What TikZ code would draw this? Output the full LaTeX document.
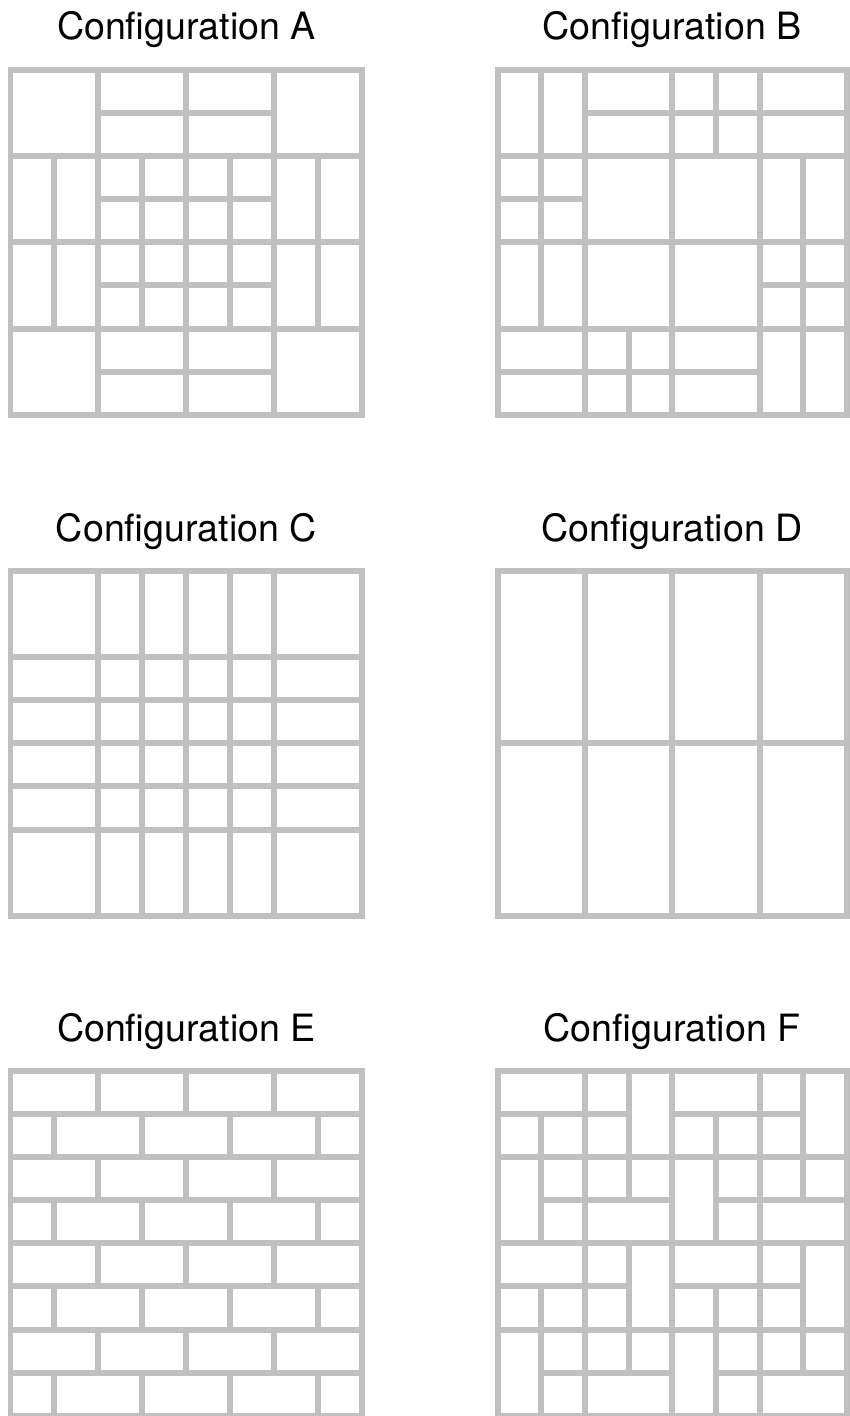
\documentclass[tikz,border=0pt]{standalone}
\usepackage{fontspec}
\setmainfont{TeX Gyre Heros}
\begin{document}
\begin{tikzpicture}[x=0.02cm,y=-0.02cm,font=\fontsize{21.4}{26}\selectfont]
  \definecolor{tilegray}{RGB}{192,192,192}
  \tikzset{joint/.style={tilegray,line width=0.12cm,line cap=rect}}
  \useasboundingbox (0,0) rectangle (849,1416);
  % titles
  \node[anchor=base] (labA) at (186.5,40) {Configuration A};
  \node[anchor=base] (labB) at (672,40) {Configuration B};
  \node[anchor=base] (labC) at (186.5,541) {Configuration C};
  \node[anchor=base] (labD) at (672,541) {Configuration D};
  \node[anchor=base] (labE) at (186.5,1041) {Configuration E};
  \node[anchor=base] (labF) at (672,1041) {Configuration F};
  % Configuration A
  \begin{scope}[shift={(10.5,70)},x=0.88cm,y=-0.862cm]
    \draw[joint] (0,0) rectangle (8,8);
    \foreach \y in {2,4,6} \draw[joint] (0,\y) -- (8,\y);
    \foreach \y in {1,3,5,7} \draw[joint] (2,\y) -- (6,\y);
    \foreach \x in {2,4,6} \draw[joint] (\x,0) -- (\x,8);
    \foreach \x in {1,3,5,7} \draw[joint] (\x,2) -- (\x,6);
  \end{scope}
  % Configuration B
  \begin{scope}[shift={(497.5,70)},x=0.874cm,y=-0.862cm]
    \draw[joint] (0,0) rectangle (8,8);
    \foreach \t in {2,4,6} {
      \draw[joint] (0,\t) -- (8,\t);
      \draw[joint] (\t,0) -- (\t,8);
    }
    \draw[joint] (2,1) -- (8,1);
    \draw[joint] (0,3) -- (2,3);
    \draw[joint] (6,5) -- (8,5);
    \draw[joint] (0,7) -- (6,7);
    \draw[joint] (1,0) -- (1,6);
    \draw[joint] (3,6) -- (3,8);
    \draw[joint] (5,0) -- (5,2);
    \draw[joint] (7,2) -- (7,8);
  \end{scope}
  % Configuration C
  \begin{scope}[shift={(10.5,571)},x=0.88cm,y=-0.862cm]
    \draw[joint] (0,0) rectangle (8,8);
    \foreach \t in {2,...,6} {
      \draw[joint] (0,\t) -- (8,\t);
      \draw[joint] (\t,0) -- (\t,8);
    }
  \end{scope}
  % Configuration D
  \begin{scope}[shift={(497.5,571)},x=0.874cm,y=-0.862cm]
    \draw[joint] (0,0) rectangle (8,8);
    \foreach \x in {2,4,6} \draw[joint] (\x,0) -- (\x,8);
    \draw[joint] (0,4) -- (8,4);
  \end{scope}
  % Configuration E
  \begin{scope}[shift={(10.5,1071)},x=0.88cm,y=-0.862cm]
    \draw[joint] (0,0) rectangle (8,8);
    \foreach \y in {1,...,7} \draw[joint] (0,\y) -- (8,\y);
    \foreach \y in {0,2,4,6}
      \foreach \x in {2,4,6} \draw[joint] (\x,\y) -- (\x,\y+1);
    \foreach \y in {1,3,5,7}
      \foreach \x in {1,3,5,7} \draw[joint] (\x,\y) -- (\x,\y+1);
  \end{scope}
  % Configuration F
  \begin{scope}[shift={(497.5,1071)},x=0.874cm,y=-0.862cm]
    \draw[joint] (0,0) rectangle (8,8);
    \foreach \t in {2,4,6} {
      \draw[joint] (0,\t) -- (8,\t);
      \draw[joint] (\t,0) -- (\t,8);
    }
    \foreach \a in {0,4}
      \foreach \b in {0,4} {
        \draw[joint] (\a,\b+1) -- (\a+3,\b+1);
        \draw[joint] (\a+1,\b+3) -- (\a+4,\b+3);
        \draw[joint] (\a+1,\b+1) -- (\a+1,\b+4);
        \draw[joint] (\a+3,\b) -- (\a+3,\b+3);
      }
  \end{scope}
\end{tikzpicture}
\end{document}
